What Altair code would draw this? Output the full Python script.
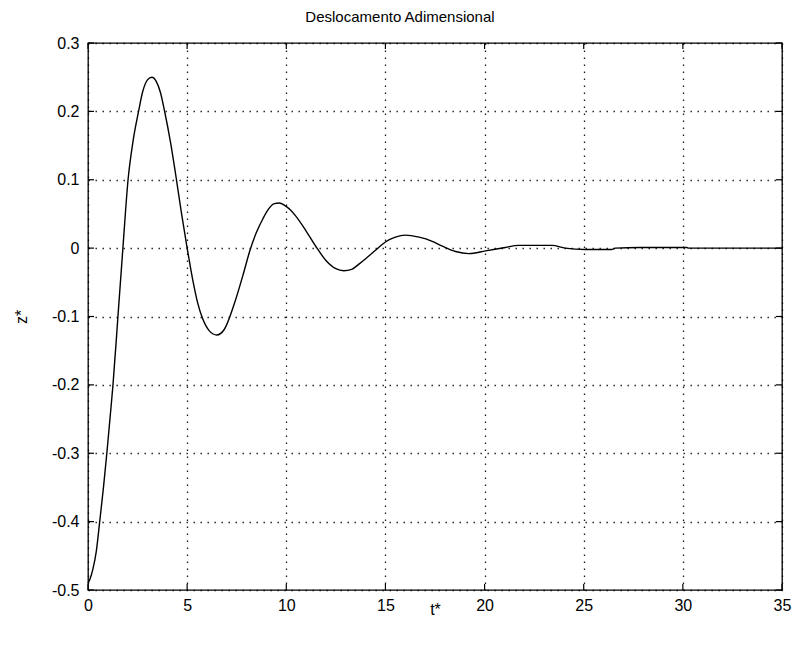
import altair as alt
import pandas as pd

# Curve
t_vals = [0, 0.1, 0.25, 0.42, 0.59, 0.78, 0.95, 1.1, 1.26, 1.51, 1.76, 2.02, 2.28, 2.55,
          2.76, 3.0, 3.22, 3.44, 3.65, 3.85, 4.16, 4.44, 4.72, 5.0, 5.28, 5.53, 5.78,
          6.12, 6.5, 6.87, 7.37, 7.85, 8.15, 8.48, 8.82, 9.1, 9.4, 9.65, 9.9, 10.2, 10.5,
          11.0, 11.5, 12.0, 12.5, 12.9, 13.3, 13.68, 14.1, 14.5, 15.0, 15.5, 16.0, 16.7,
          17.36, 17.87, 18.54, 19.2, 20.05, 21.05, 21.7, 23.4, 24.07, 25.07, 26.4, 26.6,
          27.84, 30.2, 30.3, 35]
z_vals = [-0.49, -0.484, -0.469, -0.443, -0.4, -0.35, -0.3, -0.252, -0.2, -0.1, 0.0, 0.1,
          0.158, 0.2, 0.229, 0.246, 0.25, 0.244, 0.228, 0.202, 0.155, 0.104, 0.05, 0.0,
          -0.046, -0.08, -0.103, -0.121, -0.127, -0.119, -0.082, -0.036, -0.005, 0.022,
          0.043, 0.057, 0.065, 0.066, 0.063, 0.056, 0.046, 0.025, 0.002, -0.018, -0.03,
          -0.033, -0.031, -0.023, -0.013, -0.003, 0.009, 0.016, 0.019, 0.016, 0.01, 0.003,
          -0.005, -0.008, -0.004, 0.001, 0.004, 0.004, 0.0, -0.002, -0.002, 0.0, 0.001,
          0.001, 0.0, 0.0]

x_ticks = [0, 5, 10, 15, 20, 25, 30, 35]
y_ticks = [-0.5, -0.4, -0.3, -0.2, -0.1, 0, 0.1, 0.2, 0.3]

title_text = "Deslocamento Adimensional"
x_title = "t*"
y_title = "z*"

W, H = 694, 547
FONT = "Liberation Sans"

df = pd.DataFrame({"t": t_vals, "z": z_vals})
xt = pd.DataFrame({"t": x_ticks})
yt = pd.DataFrame({"z": y_ticks})

xscale = alt.Scale(domain=[0, 35], nice=False, zero=False)
yscale = alt.Scale(domain=[-0.5, 0.3], nice=False, zero=False)

grid_common = dict(
    grid=True, gridColor="#000000", gridOpacity=0.9, gridWidth=1.3,
    gridDash=[1.4, 5.6], domain=False, ticks=False, labelFlush=False,
    labelFont=FONT, labelFontSize=16, labelColor="#000000",
    titleFont=FONT, titleFontSize=16, titleFontWeight="normal", titleColor="#000000",
)

x_axis = alt.Axis(values=x_ticks, labelExpr="'' + datum.value", labelPadding=7, title=x_title,
                  titleY=24, titleBaseline="alphabetic", **grid_common)
y_axis = alt.Axis(values=y_ticks, labelExpr="'' + datum.value",
                  labelPadding=9, title=y_title, titleAngle=-90, titleX=-62,
                  titleY=H / 2, titleBaseline="alphabetic", **grid_common)

line = alt.Chart(df).mark_line(color="#000000", strokeWidth=1.4, interpolate="monotone").encode(
    x=alt.X("t:Q", scale=xscale, axis=x_axis),
    y=alt.Y("z:Q", scale=yscale, axis=y_axis),
)

tick_len = 6
xb = alt.Chart(xt).mark_rule(color="#000000", strokeWidth=1.2).encode(
    x=alt.X("t:Q", scale=xscale), y=alt.value(H), y2=alt.value(H - tick_len))
xtop = alt.Chart(xt).mark_rule(color="#000000", strokeWidth=1.2).encode(
    x=alt.X("t:Q", scale=xscale), y=alt.value(0), y2=alt.value(tick_len))
yl = alt.Chart(yt).mark_rule(color="#000000", strokeWidth=1.2).encode(
    y=alt.Y("z:Q", scale=yscale), x=alt.value(0), x2=alt.value(tick_len))
yr = alt.Chart(yt).mark_rule(color="#000000", strokeWidth=1.2).encode(
    y=alt.Y("z:Q", scale=yscale), x=alt.value(W - tick_len), x2=alt.value(W))

chart = alt.layer(line, xb, xtop, yl, yr).properties(
    width=W, height=H,
    title=alt.TitleParams(title_text, font=FONT, fontSize=15, fontWeight="normal",
                          color="#000000", anchor="middle", offset=10, dx=-35),
    autosize=alt.AutoSizeParams(type="none"),
    padding={"left": 80, "top": 35, "right": 10, "bottom": 52},
    background="#ffffff",
).configure_view(stroke="#000000", strokeWidth=1.3)

chart.save("out.html", embed_options={"renderer": "svg", "actions": False})
